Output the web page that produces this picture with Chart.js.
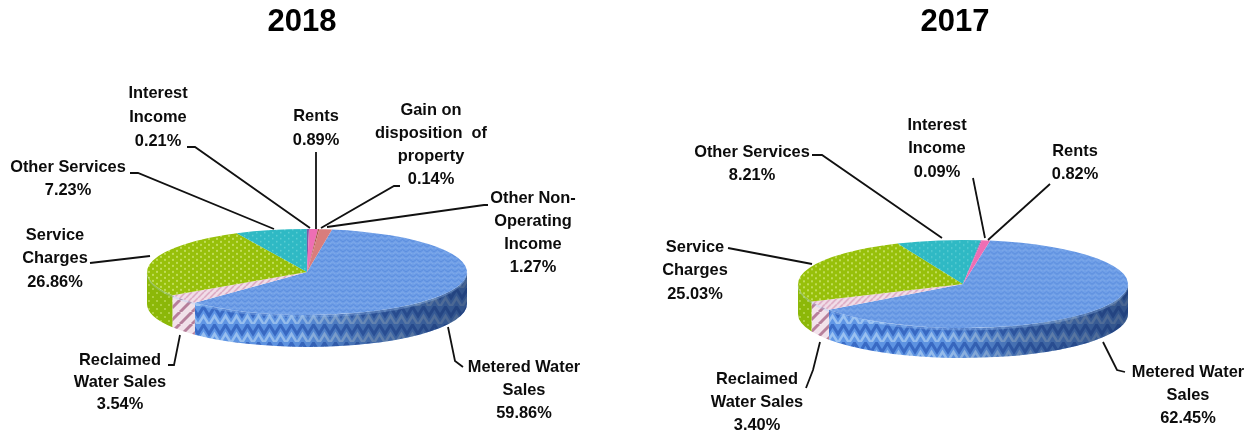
<!DOCTYPE html>
<html>
<head>
<meta charset="utf-8">
<script src="https://cdn.jsdelivr.net/npm/chart.js@4"></script>
<style>
html,body{margin:0;padding:0;background:#fff;overflow:hidden;width:1259px;height:433px}
canvas{position:absolute;top:0;filter:blur(0.45px)}
</style>
</head>
<body>
<canvas id="c18" width="604" height="433" style="left:0"></canvas>
<canvas id="c17" width="608" height="433" style="left:651px"></canvas>
<script>
// ---- data ----
const title18 = "2018";
const title17 = "2017";
const categories18 = ["Metered Water Sales","Reclaimed Water Sales","Service Charges","Other Services","Interest Income","Rents","Gain on disposition of property","Other Non-Operating Income"];
const values18 = [59.86,3.54,26.86,7.23,0.21,0.89,0.14,1.27];
const categories17 = ["Metered Water Sales","Reclaimed Water Sales","Service Charges","Other Services","Interest Income","Rents"];
const values17 = [62.45,3.40,25.03,8.21,0.09,0.82];

// ---- layout of labels (page pixels) ----
const wrap = {
  "Metered Water Sales":["Metered Water","Sales"],
  "Reclaimed Water Sales":["Reclaimed","Water Sales"],
  "Service Charges":["Service","Charges"],
  "Other Services":["Other Services"],
  "Interest Income":["Interest","Income"],
  "Rents":["Rents"],
  "Gain on disposition of property":["Gain on","disposition  of","property"],
  "Other Non-Operating Income":["Other Non-","Operating","Income"]
};
const labels18 = [
  {x:524,y:367,lh:23,line:[[463,367],[455,361],[448,327]]},
  {x:120,y:360,lh:22,line:[[168,365],[174,365],[180,335]]},
  {x:55,y:235,lh:23.5,line:[[90,263],[150,256]]},
  {x:68,y:167,lh:23,line:[[130,173],[138,173],[274,229]]},
  {x:158,y:93,lh:24,line:[[187,147],[195,147],[310,228]]},
  {x:316,y:116,lh:24,line:[[316,152],[316,229]]},
  {x:431,y:110,lh:23.3,line:[[400,186],[394,186],[321,228]]},
  {x:533,y:198,lh:23.3,line:[[488,205],[484,205],[327,227]]}
];
const labels17 = [
  {x:1188,y:372,lh:23,line:[[1125,372],[1117,370],[1103,342]]},
  {x:757,y:379,lh:23,line:[[806,388],[813,370],[820,342]]},
  {x:695,y:247,lh:23.5,line:[[728,248],[812,264]]},
  {x:752,y:152,lh:23,line:[[812,155],[822,155],[942,238]]},
  {x:937,y:125,lh:23.5,line:[[973,178],[985,238]]},
  {x:1075,y:151,lh:23,line:[[1050,184],[988,240]]}
];

// ---- pattern tiles ----
function tile(w,h,bg,draw){
  const c=document.createElement('canvas');c.width=w;c.height=h;
  const x=c.getContext('2d');x.fillStyle=bg;x.fillRect(0,0,w,h);draw(x,w,h);return c;
}
function zig(color,lw,off){
  return (x,w,h)=>{x.strokeStyle=color;x.lineWidth=lw;
    x.beginPath();x.moveTo(-w/2,h*off);x.lineTo(0,h*(off+.5));x.lineTo(w/2,h*off);x.lineTo(w,h*(off+.5));x.lineTo(w*1.5,h*off);x.stroke();};
}
function blueFace(x,w,h){zig('#5a8cdc',1,.1)(x,w,h);zig('#86aeea',.8,.6)(x,w,h);}
function blueSide(x,w,h){zig('#3a6cc8',3,.05)(x,w,h);zig('#9cc4f4',2.5,.55)(x,w,h);}
function dots(color,s){return (x,w,h)=>{x.fillStyle=color;x.fillRect(0,0,s,s);x.fillRect(w/2,h/2,s,s);};}
function hatch(color,lw){return (x,w,h)=>{x.strokeStyle=color;x.lineWidth=lw;
  for(let i=-1;i<=1;i++){x.beginPath();x.moveTo(i*w,h);x.lineTo(i*w+w,0);x.stroke();}};}
function mkPattern(ctx,t,sy){
  const p=ctx.createPattern(t,'repeat');
  if(sy!==1)p.setTransform(new DOMMatrix().scale(1,sy));
  return p;
}

// ---- 3D pie drawing around the library's arcs ----
const pie3d={
  id:'pie3d',
  beforeDatasetsDraw(chart){
    const o=chart.options.plugins.pie3d, ctx=chart.ctx, arcs=chart.getDatasetMeta(0).data;
    const cx=arcs[0].x, rx=arcs[0].outerRadius, cy=o.cy, ry=o.ry, d=o.depth;
    arcs.forEach((arc,i)=>{
      const a=Math.max(arc.startAngle,0), b=Math.min(arc.endAngle,Math.PI);
      let s=o.side[i];
      if(!s||b<=a)return;
      ctx.save();
      ctx.beginPath();
      ctx.ellipse(cx,cy,rx,ry,0,a,b);
      ctx.ellipse(cx,cy+d,rx,ry,0,b,a,true);
      ctx.closePath();
      ctx.fillStyle=mkPattern(ctx,s,1);ctx.fill();
      ctx.clip();
      const g=ctx.createLinearGradient(cx-rx,0,cx+rx,0);
      g.addColorStop(0,'rgba(20,40,80,0)');g.addColorStop(.45,'rgba(20,40,80,0.06)');
      g.addColorStop(.7,'rgba(20,40,80,0.42)');g.addColorStop(1,'rgba(20,40,80,0.62)');
      ctx.fillStyle=g;ctx.fillRect(cx-rx,cy,2*rx,ry+d+2);
      ctx.restore();
    });
    // rounded rim on the edge of the top face
    ctx.save();
    ctx.beginPath();
    ctx.ellipse(cx,cy+1,rx-1,ry,0,0,Math.PI);
    ctx.strokeStyle='rgba(170,205,250,0.3)';ctx.lineWidth=3;ctx.stroke();
    ctx.restore();
    ctx.save();
    ctx.translate(0,cy);ctx.scale(1,ry/rx);ctx.translate(0,-arcs[0].y);
  },
  afterDatasetsDraw(chart){
    const o=chart.options.plugins.pie3d, ctx=chart.ctx;
    ctx.restore();
    const left=o.offset, values=chart.data.datasets[0].data, names=chart.data.labels;
    ctx.save();
    ctx.textAlign='center';ctx.textBaseline='middle';
    ctx.fillStyle='#000';
    ctx.font='bold 31px "Liberation Sans", Arial, sans-serif';
    ctx.fillText(o.title,o.titleX-left,o.titleY);
    ctx.strokeStyle='#111';ctx.lineWidth=1.8;ctx.fillStyle='#0c0c0c';
    ctx.font='bold 16.4px "Liberation Sans", Arial, sans-serif';
    o.labels.forEach((l,i)=>{
      ctx.beginPath();
      l.line.forEach((p,j)=>j?ctx.lineTo(p[0]-left,p[1]):ctx.moveTo(p[0]-left,p[1]));
      ctx.stroke();
      const lines=wrap[names[i]].concat([values[i].toFixed(2)+'%']);
      lines.forEach((t,j)=>ctx.fillText(t,l.x-left,l.y+j*l.lh));
    });
    ctx.restore();
  }
};

function build(id,title,cats,vals,colorsFace,sideTiles,cfg){
  const ctx=document.getElementById(id).getContext('2d');
  const k=cfg.ry/cfg.rx;
  const faces=colorsFace.map(f=>typeof f==='string'?f:mkPattern(ctx,f,1/k));
  new Chart(ctx,{
    type:'pie',
    data:{labels:cats,datasets:[{data:vals,backgroundColor:faces,borderWidth:0,clip:false}]},
    options:{
      responsive:false,animation:false,events:[],
      rotation:cfg.rotation,
      layout:{padding:{left:cfg.cx-cfg.rx-cfg.offset,right:cfg.width-(cfg.cx+cfg.rx-cfg.offset)}},
      plugins:{
        legend:{display:false},tooltip:{enabled:false},title:{display:false},
        pie3d:{cy:cfg.cy,ry:cfg.ry,depth:cfg.depth,side:sideTiles,labels:cfg.labels,offset:cfg.offset,title:title,titleX:cfg.titleX,titleY:22}
      }
    },
    plugins:[pie3d]
  });
}

const tBlueFace=tile(7,5,'#6f9fe8',blueFace);
const tBlueSide=tile(11,18,'#6198e8',blueSide);
const tPinkFace=tile(6,6,'#f1dde8',hatch('#dca6c0',1.5));
const tPinkSide=tile(12,12,'#f4e4ec',hatch('#b8809c',3));
const tGreenFace=tile(8,6,'#97c00a',dots('#c0dc58',2));
const tGreenSide=tile(8,8,'#8cb808',dots('#aed040',2));
const tTeal=tile(8,6,'#2fb9c4',dots('#5fd0d4',1.5));

const faces18=[tBlueFace,tPinkFace,tGreenFace,tTeal,'#7d5aa8','#ee6eb4','#a8544c','#d97d7c'];
const faces17=[tBlueFace,tPinkFace,tGreenFace,tTeal,'#7d5aa8','#ee6eb4'];
const sides=[tBlueSide,tPinkSide,tGreenSide];

build('c18',title18,categories18,values18,faces18,sides,
  {cx:307,cy:272,rx:160,ry:43,depth:32,rotation:9,offset:0,width:604,labels:labels18,titleX:302});
build('c17',title17,categories17,values17,faces17,sides,
  {cx:963,cy:284,rx:165,ry:44,depth:30,rotation:9.5,offset:651,width:608,labels:labels17,titleX:955});
</script>
</body>
</html>
